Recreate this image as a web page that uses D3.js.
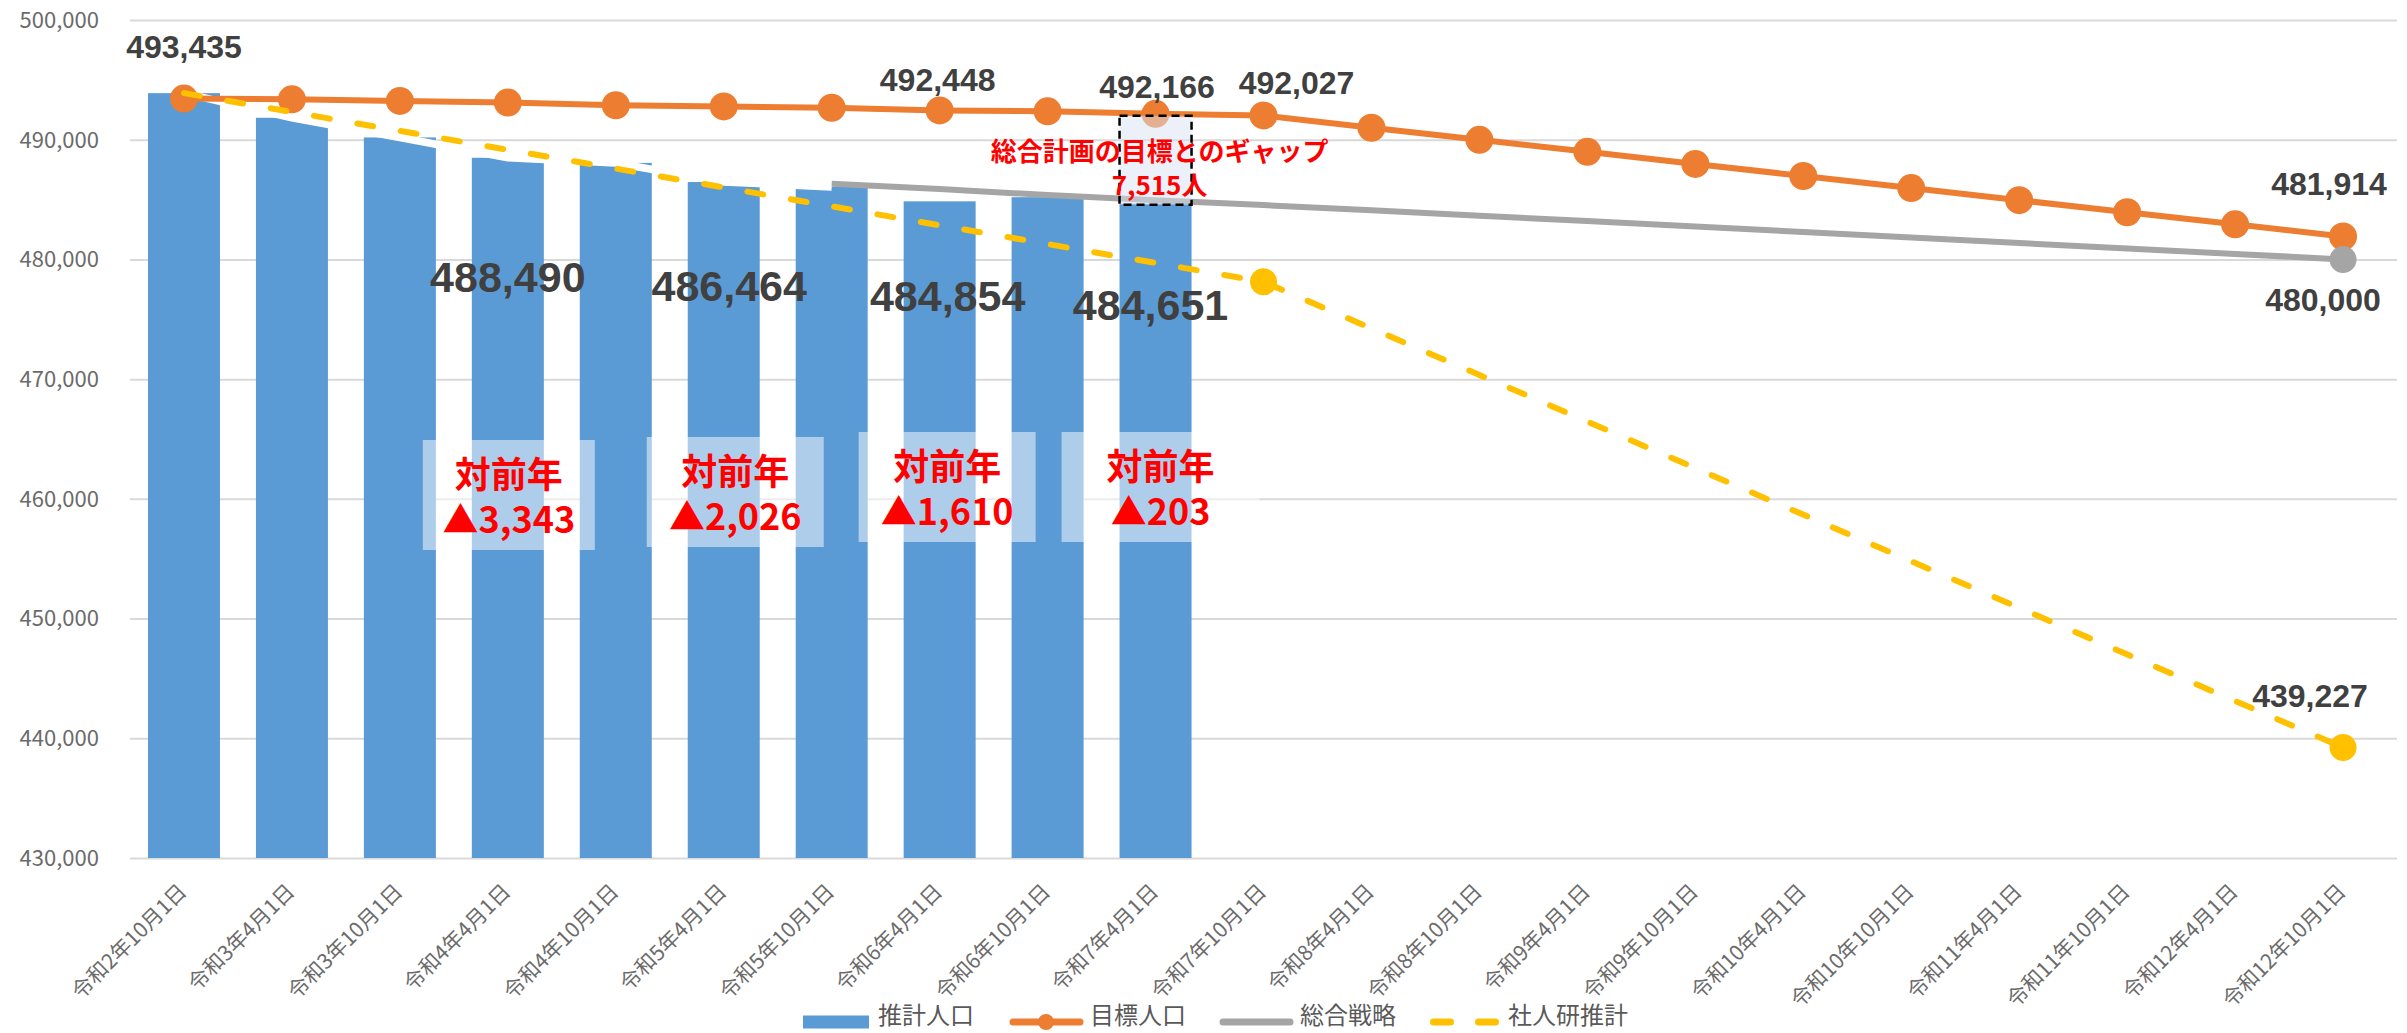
<!DOCTYPE html>
<html lang="ja">
<head>
<meta charset="UTF-8">
<title>推計人口・目標人口・総合戦略・社人研推計</title>
<script src="https://cdnjs.cloudflare.com/ajax/libs/d3/7.8.5/d3.min.js"></script>
<style>
    body { margin: 0; background: #fff; }
    .jp { font-family: "Noto Sans CJK JP", sans-serif; }
    .num { font-family: "Liberation Sans", Arial, sans-serif; }
    .grid line { stroke: #d9d9d9; stroke-width: 2; }
    .grid path { display: none; }
    .tick-label { font-size: 22px; fill: #6b6b6b; }
    .cat-label { font-size: 21px; fill: #6b6b6b; }
    .legend text { font-size: 24px; fill: #595959; }
    .val { font-weight: bold; fill: #404040; }
    .red { fill: #ff0000; font-weight: bold; }
</style>
</head>
<body>
<div id="chart"></div>
<script>
// categories (x axis)
const categories = [
    "令和2年10月1日", "令和3年4月1日", "令和3年10月1日", "令和4年4月1日", "令和4年10月1日",
    "令和5年4月1日", "令和5年10月1日", "令和6年4月1日", "令和6年10月1日", "令和7年4月1日",
    "令和7年10月1日", "令和8年4月1日", "令和8年10月1日", "令和9年4月1日", "令和9年10月1日",
    "令和10年4月1日", "令和10年10月1日", "令和11年4月1日", "令和11年10月1日", "令和12年4月1日",
    "令和12年10月1日"
];

// 推計人口 (bars, R2.10 - R7.4)
const estimatedPop = [493890, 491833, 490190, 488490, 488060, 486464, 486060, 484854, 485200, 484651];

// 目標人口 (orange)
const targetPop = [493435, 493370, 493240, 493100, 492880, 492780, 492670, 492448, 492370, 492166,
    492027, 491000, 489990, 488990, 487980, 486970, 485960, 484950, 483940, 482930, 481914];

// 総合戦略 (gray), starts at R5.10
const strategyPop = [null, null, null, null, null, null, 486330, 485880, 485380, 484950,
    484540, 484100, 483650, 483200, 482750, 482290, 481830, 481370, 480910, 480460, 480000];

// 社人研推計 (yellow dashed), census-year points only
const ipssPop = [493890, null, null, null, null, null, null, null, null, null,
    478130, null, null, null, null, null, null, null, null, null, 439227];

const yTicks = [430000, 440000, 450000, 460000, 470000, 480000, 490000, 500000];

// 対前年 notes
const yoyCategories = ["令和4年4月1日", "令和5年4月1日", "令和6年4月1日", "令和7年4月1日"];
const yoyLabels = ["▲3,343", "▲2,026", "▲1,610", "▲203"];

const gapCategory = "令和7年4月1日";
const gapLines = ["総合計画の目標とのギャップ", "7,515人"];

const legendNames = ["推計人口", "目標人口", "総合戦略", "社人研推計"];

// ---------------------------------------------------------------
const W = 2407, H = 1033;
const plot = {left: 130, right: 2397, top: 20, bottom: 858};
const colors = {bar: "#5b9bd5", target: "#ed7d31", strategy: "#a5a5a5", ipss: "#ffc000"};
const fmt = d3.format(",");

const svg = d3.select("#chart").append("svg")
    .attr("width", W).attr("height", H);

const x = d3.scaleBand()
    .domain(categories)
    .range([plot.left, plot.right])
    .paddingInner(0.333)
    .paddingOuter(0.1665);
const cx = c => x(c) + x.bandwidth() / 2;

const y = d3.scaleLinear()
    .domain([430000, 500000])
    .range([plot.bottom, plot.top]);

// grid
svg.append("g")
    .attr("class", "grid")
    .attr("transform", `translate(${plot.left},0)`)
    .call(d3.axisLeft(y).tickValues(yTicks).tickSize(-(plot.right - plot.left)).tickFormat(""));

// y tick labels
svg.append("g").selectAll("text")
    .data(yTicks)
    .join("text")
    .attr("class", "tick-label jp")
    .attr("x", 99)
    .attr("y", d => y(d))
    .attr("dy", "0.36em")
    .attr("text-anchor", "end")
    .text(d => fmt(d));

// bars
const barData = estimatedPop.map((v, i) => ({c: categories[i], v}));
svg.append("g").selectAll("rect")
    .data(barData)
    .join("rect")
    .attr("x", d => x(d.c))
    .attr("y", d => y(d.v))
    .attr("width", x.bandwidth())
    .attr("height", d => y(430000) - y(d.v))
    .attr("fill", colors.bar);

// white trace over the first bar tops (as in the source chart)
svg.append("path")
    .datum(barData.slice(0, 7))
    .attr("fill", "none")
    .attr("stroke", "#fff")
    .attr("stroke-width", 7.5)
    .attr("d", d3.line().x(d => cx(d.c)).y(d => y(d.v)));

const seriesPts = arr => arr.map((v, i) => ({c: categories[i], v})).filter(d => d.v !== null);
const line = d3.line().x(d => cx(d.c)).y(d => y(d.v));

// 目標人口
const tgt = seriesPts(targetPop);
svg.append("path").datum(tgt)
    .attr("fill", "none").attr("stroke", colors.target)
    .attr("stroke-width", 6).attr("stroke-linejoin", "round")
    .attr("d", line);
svg.append("g").selectAll("circle")
    .data(tgt).join("circle")
    .attr("cx", d => cx(d.c)).attr("cy", d => y(d.v))
    .attr("r", 14).attr("fill", colors.target);

// 総合戦略
const str = seriesPts(strategyPop);
svg.append("path").datum(str)
    .attr("fill", "none").attr("stroke", colors.strategy)
    .attr("stroke-width", 6).attr("stroke-linejoin", "round")
    .attr("d", line);
svg.append("circle")
    .attr("cx", cx(str[str.length - 1].c)).attr("cy", y(str[str.length - 1].v))
    .attr("r", 13.5).attr("fill", colors.strategy);

// 社人研推計
const ips = seriesPts(ipssPop);
svg.append("path").datum(ips)
    .attr("fill", "none").attr("stroke", colors.ipss)
    .attr("stroke-width", 6).attr("stroke-linecap", "round")
    .attr("stroke-dasharray", "16,28")
    .attr("d", line);
svg.append("g").selectAll("circle")
    .data(ips.slice(1)).join("circle")
    .attr("cx", d => cx(d.c)).attr("cy", d => y(d.v))
    .attr("r", 13.5).attr("fill", colors.ipss);

// 対前年 boxes
const yoyLayout = [
    {dx: 1, w: 172, top: 440},
    {dx: 11.5, w: 177, top: 437},
    {dx: 7.5, w: 177, top: 432},
    {dx: 5, w: 198, top: 432}
];
yoyCategories.forEach((c, i) => {
    const L = yoyLayout[i];
    const mx = cx(c) + L.dx;
    const g = svg.append("g");
    g.append("rect")
        .attr("x", mx - L.w / 2).attr("y", L.top)
        .attr("width", L.w).attr("height", 110)
        .attr("fill", "#fff").attr("fill-opacity", 0.5);
    g.append("text").attr("class", "jp red")
        .attr("x", mx).attr("y", L.top + 48)
        .attr("text-anchor", "middle").attr("font-size", 36)
        .text("対前年");
    g.append("text").attr("class", "jp red")
        .attr("x", mx).attr("y", L.top + 93)
        .attr("text-anchor", "middle").attr("font-size", 36)
        .text(yoyLabels[i]);
});

// gap box
const gi = categories.indexOf(gapCategory);
svg.append("rect")
    .attr("x", x(gapCategory)).attr("y", y(targetPop[gi]) + 2)
    .attr("width", x.bandwidth())
    .attr("height", y(estimatedPop[gi]) - y(targetPop[gi]) - 1)
    .attr("fill", "#dae3f3").attr("fill-opacity", 0.5)
    .attr("stroke", "#000").attr("stroke-width", 2.5)
    .attr("stroke-dasharray", "8,5");
gapLines.forEach((t, i) => {
    svg.append("text").attr("class", "jp red")
        .attr("x", cx(gapCategory) + 4)
        .attr("y", 161 + i * 34)
        .attr("text-anchor", "middle").attr("font-size", 26)
        .text(t);
});

// value labels
const valueLabels = [
    {arr: targetPop, i: 0, dx: 0, dy: -41, size: 32},
    {arr: targetPop, i: 7, dx: -2, dy: -19, size: 32},
    {arr: targetPop, i: 9, dx: 1.5, dy: -16, size: 32},
    {arr: targetPop, i: 10, dx: 33, dy: -21, size: 32},
    {arr: targetPop, i: 20, dx: -14, dy: -42, size: 32},
    {arr: strategyPop, i: 20, dx: -20, dy: 52, size: 32},
    {arr: ipssPop, i: 20, dx: -33, dy: -41, size: 32},
    {arr: estimatedPop, i: 3, dx: 0, dy: 134, size: 43},
    {arr: estimatedPop, i: 5, dx: 5.5, dy: 119, size: 43},
    {arr: estimatedPop, i: 7, dx: 8, dy: 110, size: 43},
    {arr: estimatedPop, i: 9, dx: -5, dy: 116, size: 43}
];
svg.append("g").selectAll("text")
    .data(valueLabels)
    .join("text")
    .attr("class", "num val")
    .attr("x", d => cx(categories[d.i]) + d.dx)
    .attr("y", d => y(d.arr[d.i]) + d.dy)
    .attr("text-anchor", "middle")
    .attr("font-size", d => d.size)
    .text(d => fmt(d.arr[d.i]));

// category labels
svg.append("g").selectAll("text")
    .data(categories)
    .join("text")
    .attr("class", "cat-label jp")
    .attr("text-anchor", "end")
    .attr("transform", d => `translate(${cx(d) + 4},${893}) rotate(-45)`)
    .text(d => d);

// legend
const legend = svg.append("g").attr("class", "legend");
const ly = 1022;
legend.append("rect")
    .attr("x", 803).attr("y", ly - 6.5).attr("width", 66).attr("height", 13)
    .attr("fill", colors.bar);
legend.append("line")
    .attr("x1", 1013).attr("x2", 1080).attr("y1", ly).attr("y2", ly)
    .attr("stroke", colors.target).attr("stroke-width", 7).attr("stroke-linecap", "round");
legend.append("circle")
    .attr("cx", 1046).attr("cy", ly).attr("r", 8).attr("fill", colors.target);
legend.append("line")
    .attr("x1", 1223).attr("x2", 1290).attr("y1", ly).attr("y2", ly)
    .attr("stroke", colors.strategy).attr("stroke-width", 7).attr("stroke-linecap", "round");
legend.append("line")
    .attr("x1", 1433.5).attr("x2", 1495.5).attr("y1", ly).attr("y2", ly)
    .attr("stroke", colors.ipss).attr("stroke-width", 7).attr("stroke-linecap", "round")
    .attr("stroke-dasharray", "17,28");
const legendTextX = [878, 1090, 1300, 1508];
legendNames.forEach((n, i) => {
    legend.append("text")
        .attr("class", "jp")
        .attr("x", legendTextX[i]).attr("y", 1024)
        .text(n);
});
</script>
</body>
</html>
